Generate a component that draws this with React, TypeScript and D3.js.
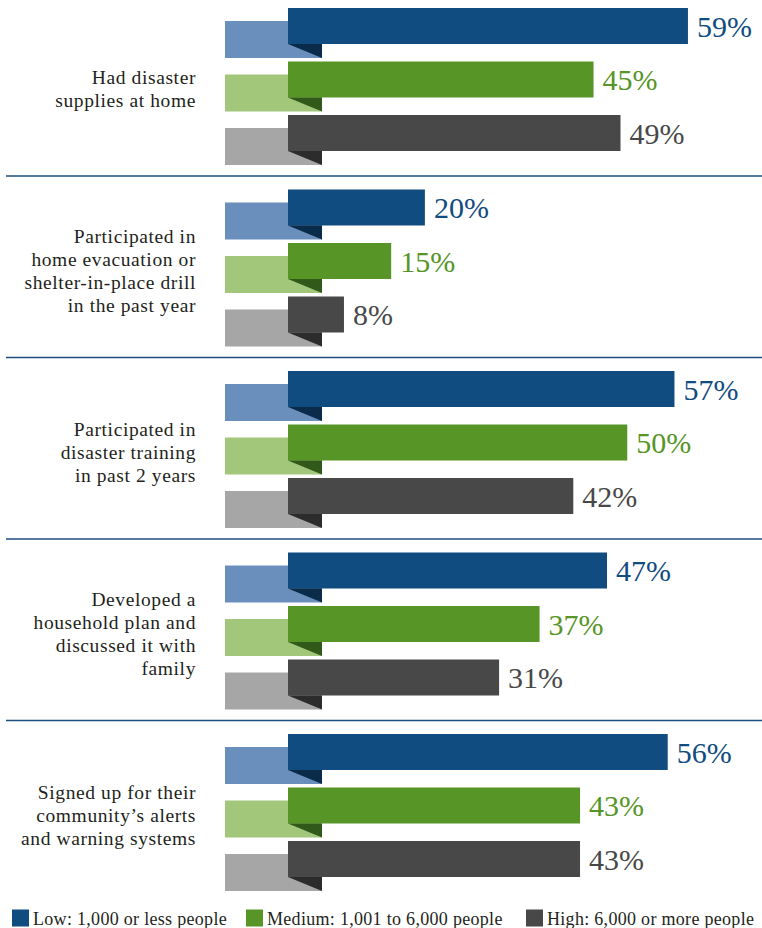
import React from "react";
import * as d3 from "d3";

const categories: string[][] = [
  ["Had disaster", "supplies at home"],
  ["Participated in", "home evacuation or", "shelter-in-place drill", "in the past year"],
  ["Participated in", "disaster training", "in past 2 years"],
  ["Developed a", "household plan and", "discussed it with", "family"],
  ["Signed up for their", "community\u2019s alerts", "and warning systems"],
];
const seriesNames = ["Low: 1,000 or less people", "Medium: 1,001 to 6,000 people", "High: 6,000 or more people"];
const lowValues = [59, 20, 57, 47, 56];
const mediumValues = [45, 15, 50, 37, 43];
const highValues = [49, 8, 42, 31, 43];

const series = [lowValues, mediumValues, highValues];
const dark = ["#114c80", "#569526", "#484848"];
const light = ["#6b8fbd", "#a2c67a", "#a6a6a6"];
const fold = ["#0a2c4a", "#30591a", "#2c2c2c"];

const W = 762;
const H = 928;
const FONT = '"Liberation Serif", "Times New Roman", Times, serif';

export default function App() {
  const x = d3.scaleLinear().domain([0, 100]).range([290, 290 + 674.5]);
  const gy = d3.scaleLinear().domain([0, 1]).range([8, 8 + 181.5]);
  const by = d3.scaleLinear().domain([0, 1]).range([0, 53.5]);
  const barH = 36;
  const barX = 288;
  const tabX = 225;
  const tabR = 322;
  const lineH = 23;
  const legendX = [12, 246, 526];

  return (
    <svg width={W} height={H} style={{ position: "absolute", left: 0, top: 0, fontFamily: FONT }}>
      <rect width={W} height={H} fill="#fff" />
      {categories.map((lines, gi) => {
        const top = gy(gi);
        const midBaseline = top + 87.5;
        return (
          <g key={gi}>
            {series.map((vals, si) => {
              const y = top + by(si);
              return (
                <g key={si}>
                  <rect x={tabX} y={y + 13} width={tabR - tabX} height={barH + 1} fill={light[si]} />
                  <rect x={barX} y={y} width={x(vals[gi]) - barX} height={barH} fill={dark[si]} />
                  <polygon
                    points={`${barX},${y + barH} ${tabR},${y + barH} ${tabR},${y + 50}`}
                    fill={fold[si]}
                  />
                  <text
                    x={x(vals[gi]) + 9}
                    y={y + barH / 2}
                    dy="0.35em"
                    style={{ fontFamily: FONT, fontSize: 30 }}
                    fill={dark[si]}
                  >
                    {vals[gi]}%
                  </text>
                </g>
              );
            })}
            <text
              textAnchor="end"
              style={{ fontFamily: FONT, fontSize: 19.5, letterSpacing: "0.6px" }}
              fill="#231f20"
            >
              {lines.map((l, li) => (
                <tspan key={li} x={196} y={midBaseline + (li - (lines.length - 1) / 2) * lineH}>
                  {l}
                </tspan>
              ))}
            </text>
            {gi < categories.length - 1 && (
              <line x1={6} x2={W} y1={top + 168} y2={top + 168} stroke="#1d4e7c" strokeWidth={1.5} />
            )}
          </g>
        );
      })}
      {seriesNames.map((name, si) => (
        <g key={si}>
          <rect x={legendX[si]} y={909.5} width={17} height={17} fill={dark[si]} />
          <text
            x={legendX[si] + 21}
            y={925}
            style={{ fontFamily: FONT, fontSize: 18, letterSpacing: "0.3px" }}
            fill="#231f20"
          >
            {name}
          </text>
        </g>
      ))}
    </svg>
  );
}
